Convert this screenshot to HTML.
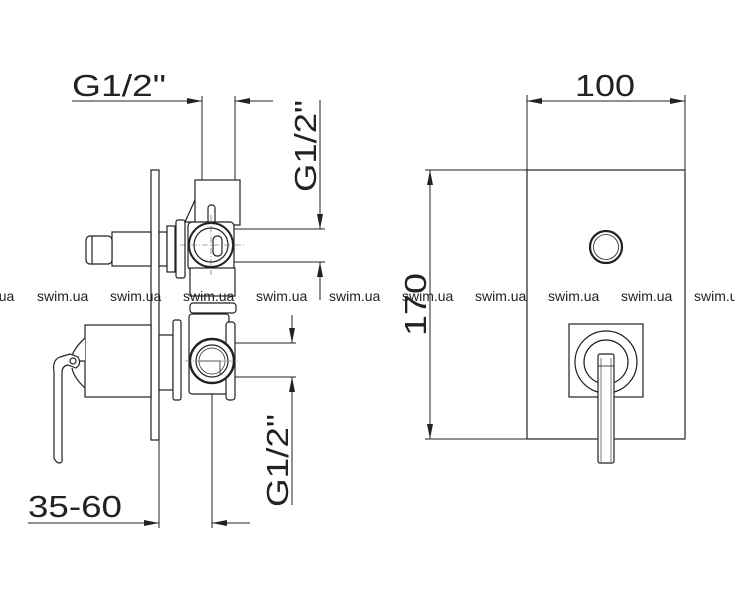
<!DOCTYPE html>
<html><head><meta charset="utf-8"><style>
html,body{margin:0;padding:0;background:#fff;}
svg{display:block;}
text{font-family:"Liberation Sans",sans-serif;fill:#222;}
.wm{fill:#999;font-size:14px;}
</style></head><body>
<svg width="735" height="595" viewBox="0 0 735 595" xmlns="http://www.w3.org/2000/svg">
<defs>
<marker id="a" markerWidth="16" markerHeight="8" refX="15" refY="4" orient="auto" markerUnits="userSpaceOnUse"><path d="M0,1 L15,4 L0,7 z" fill="#222"/></marker>
</defs>
<g stroke="#222" fill="none" stroke-width="1">
<line x1="72" y1="101" x2="202" y2="101" marker-end="url(#a)"/>
<line x1="273" y1="101" x2="235" y2="101" marker-end="url(#a)"/>
<line x1="202" y1="96" x2="202" y2="181"/>
<line x1="235" y1="96" x2="235" y2="181"/>
<line x1="320" y1="100" x2="320" y2="229" marker-end="url(#a)"/>
<line x1="320" y1="300" x2="320" y2="262" marker-end="url(#a)"/>
<line x1="212" y1="229" x2="325" y2="229"/>
<line x1="212" y1="262" x2="325" y2="262"/>
<line x1="292" y1="315" x2="292" y2="343" marker-end="url(#a)"/>
<line x1="292" y1="505" x2="292" y2="377" marker-end="url(#a)"/>
<line x1="212" y1="343" x2="296" y2="343"/>
<line x1="212" y1="377" x2="296" y2="377"/>
<line x1="28" y1="523" x2="159" y2="523" marker-end="url(#a)"/>
<line x1="250" y1="523" x2="212" y2="523" marker-end="url(#a)"/>
<line x1="159" y1="440" x2="159" y2="528"/>
<line x1="212" y1="383" x2="212" y2="528"/>
<line x1="527" y1="101" x2="685" y2="101" marker-end="url(#a)"/>
<line x1="685" y1="101" x2="527" y2="101" marker-end="url(#a)"/>
<line x1="527" y1="95" x2="527" y2="170"/>
<line x1="685" y1="95" x2="685" y2="170"/>
<line x1="430" y1="439" x2="430" y2="170" marker-end="url(#a)"/>
<line x1="430" y1="170" x2="430" y2="439" marker-end="url(#a)"/>
<line x1="425" y1="170" x2="527" y2="170"/>
<line x1="425" y1="439" x2="527" y2="439"/>
</g>
<g stroke="#222" fill="#fff" stroke-width="1.2">
<rect x="527" y="170" width="158" height="269"/>
<circle cx="606" cy="247" r="16" stroke-width="2.2"/>
<circle cx="606" cy="247" r="12.5" stroke-width="0.8"/>
<rect x="569" y="324" width="74" height="73"/>
<circle cx="606" cy="362" r="31"/>
<circle cx="606" cy="362" r="22"/>
<rect x="598" y="354" width="16" height="109" rx="2"/>
<line x1="601" y1="358" x2="601" y2="462" stroke-width="0.6"/>
<line x1="611" y1="358" x2="611" y2="462" stroke-width="0.6"/>
<line x1="598" y1="366" x2="614" y2="366" stroke-width="0.8"/>

<rect x="151" y="170" width="8" height="270"/>
<rect x="112" y="232" width="39" height="34"/>
<rect x="86" y="236" width="26" height="28" rx="4"/>
<line x1="92" y1="236" x2="92" y2="264"/>
<rect x="159" y="232" width="8" height="34"/>
<rect x="167" y="226" width="8" height="46"/>
<rect x="176" y="220" width="9" height="58" rx="2"/>
<path d="M185 222 L195 200 L200 222 Z"/>
<rect x="195" y="180" width="45" height="45"/>
<rect x="208" y="205" width="7" height="20" rx="3"/>
<rect x="188" y="222" width="46" height="48" rx="4"/>
<circle cx="211" cy="245" r="22" stroke-width="2"/>
<circle cx="211" cy="245" r="17"/>
<rect x="213" y="236" width="9" height="20" rx="4"/>
<rect x="190" y="268" width="45" height="28"/>
<rect x="190" y="303" width="46" height="10" rx="3"/>
<rect x="85" y="325" width="66" height="72"/>
<path d="M85 338 Q70 352 72 361 L85 361"/>
<path d="M85 388 Q74 378 72 368"/>
<path d="M60 357 Q52 360 54 372 L54 458 Q56 463 60 463 Q63 462 62 458 L62 372 Q62 366 68 365 L76 368 Q82 364 78 357 L70 354 Z"/>
<circle cx="73" cy="361" r="3"/>
<rect x="159" y="335" width="14" height="55"/>
<rect x="173" y="320" width="8" height="80" rx="2"/>
<rect x="189" y="314" width="40" height="80" rx="3"/>
<rect x="226" y="322" width="9" height="78" rx="3"/>
<circle cx="212" cy="361" r="22" stroke-width="2.4"/>
<circle cx="212" cy="361" r="16"/>
<circle cx="212" cy="361" r="13" stroke-width="0.7"/>
<path d="M200 361 L220 361 L220 374" fill="none" stroke-width="0.8"/>
</g>
<g stroke="#555" stroke-width="0.6" stroke-dasharray="6,2,1,2">
<line x1="180" y1="245" x2="245" y2="245"/>
<line x1="211" y1="215" x2="211" y2="275"/>
<line x1="185" y1="361" x2="240" y2="361"/>
</g>
<g font-weight="300">
<text x="72" y="96" font-size="31" textLength="94" lengthAdjust="spacingAndGlyphs">G1/2"</text>
<text transform="translate(316,192) rotate(-90)" font-size="31" textLength="92" lengthAdjust="spacingAndGlyphs">G1/2"</text>
<text transform="translate(288,507) rotate(-90)" font-size="31" textLength="93" lengthAdjust="spacingAndGlyphs">G1/2"</text>
<text x="28" y="517" font-size="31" textLength="94" lengthAdjust="spacingAndGlyphs">35-60</text>
<text x="575" y="96" font-size="31" textLength="60" lengthAdjust="spacingAndGlyphs">100</text>
<text transform="translate(426,336) rotate(-90)" font-size="31" textLength="63" lengthAdjust="spacingAndGlyphs">170</text>
</g>
<g class="wm">
<text x="-37" y="301">swim.ua</text>
<text x="37" y="301">swim.ua</text>
<text x="110" y="301">swim.ua</text>
<text x="183" y="301">swim.ua</text>
<text x="256" y="301">swim.ua</text>
<text x="329" y="301">swim.ua</text>
<text x="402" y="301">swim.ua</text>
<text x="475" y="301">swim.ua</text>
<text x="548" y="301">swim.ua</text>
<text x="621" y="301">swim.ua</text>
<text x="694" y="301">swim.ua</text>
</g>
</svg>
</body></html>
